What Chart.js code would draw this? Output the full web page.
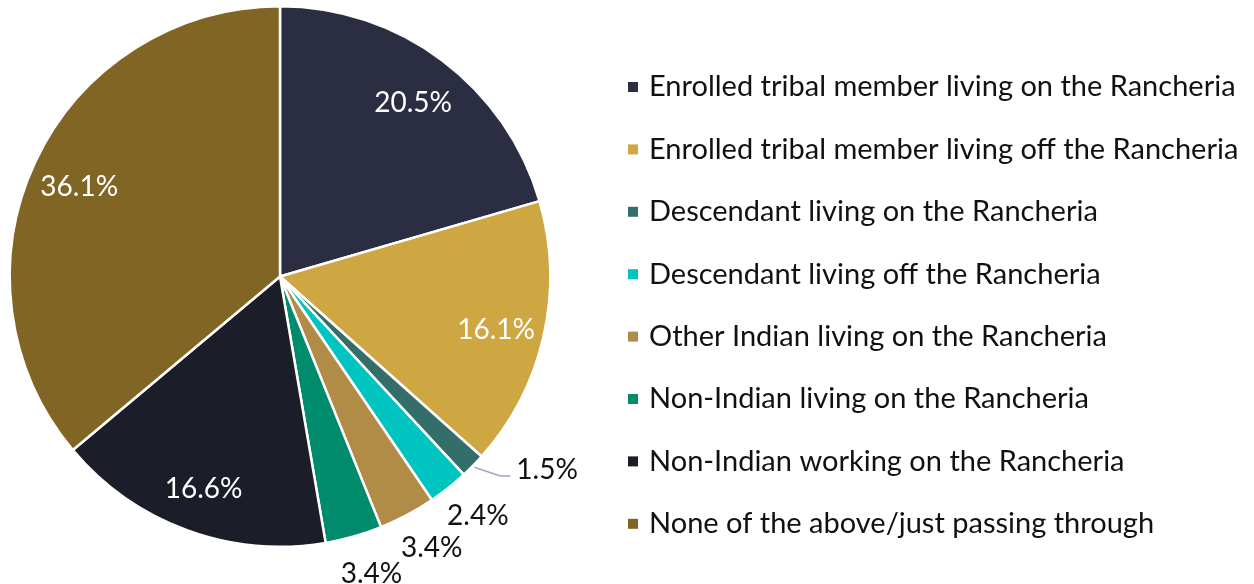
<!DOCTYPE html>
<html>
<head>
<meta charset="utf-8">
<script src="https://cdn.jsdelivr.net/npm/chart.js@4/dist/chart.umd.min.js"></script>
<style>
  html, body { margin: 0; padding: 0; background: #fff; }
  #wrap { width: 1254px; height: 584px; position: relative; }
</style>
</head>
<body>
<div id="wrap"><canvas id="pie"></canvas></div>
<script>
var categories = [
    'Enrolled tribal member living on the Rancheria',
    'Enrolled tribal member living off the Rancheria',
    'Descendant living on the Rancheria',
    'Descendant living off the Rancheria',
    'Other Indian living on the Rancheria',
    'Non-Indian living on the Rancheria',
    'Non-Indian working on the Rancheria',
    'None of the above/just passing through'
];
var shares = [20.5, 16.1, 1.5, 2.4, 3.4, 3.4, 16.6, 36.1];
var colors = ['#2b2e42', '#cea642', '#346e6b', '#00c4c0', '#b08c47', '#008c6c', '#1b1d29', '#806524'];

var FONT = '"Lato", "Open Sans", sans-serif';

// percent labels + legend, drawn after the arcs
var pieLabels = {
    id: 'pieLabels',
    afterDatasetsDraw: function (chart) {
        var ctx = chart.ctx;
        var arcs = chart.getDatasetMeta(0).data;
        ctx.save();
        ctx.font = '28px ' + FONT;
        ctx.textBaseline = 'middle';
        arcs.forEach(function (arc, i) {
            var p = arc.getProps(['x', 'y', 'startAngle', 'endAngle', 'outerRadius'], true);
            var mid = (p.startAngle + p.endAngle) / 2;
            var r = p.outerRadius;
            var txt = shares[i].toFixed(1) + '%';
            if (shares[i] >= 10) {
                ctx.fillStyle = '#ffffff';
                ctx.textAlign = 'center';
                ctx.fillText(txt, p.x + Math.cos(mid) * r * 0.82, p.y + Math.sin(mid) * r * 0.82 + 4);
            } else if (shares[i] < 2) {
                // leader line for the thinnest slice
                var a = mid - 0.04;
                var x0 = p.x + Math.cos(mid) * (r + 2), y0 = p.y + Math.sin(mid) * (r + 2);
                var x1 = p.x + Math.cos(a) * r * 1.1, y1 = p.y + Math.sin(a) * r * 1.1;
                ctx.strokeStyle = '#a3a3c2';
                ctx.lineWidth = 1.5;
                ctx.beginPath();
                ctx.moveTo(x0, y0);
                ctx.lineTo(x1, y1);
                ctx.lineTo(x1 + 10, y1);
                ctx.stroke();
                ctx.fillStyle = '#111111';
                ctx.textAlign = 'left';
                ctx.fillText(txt, x1 + 16, y1 - 6);
            } else {
                var b = mid - 0.025;
                ctx.fillStyle = '#111111';
                ctx.textAlign = 'center';
                ctx.fillText(txt, p.x + Math.cos(b) * r * 1.14, p.y + Math.sin(b) * r * 1.14 + 3);
            }
        });

        // legend
        ctx.textAlign = 'left';
        ctx.font = '29px ' + FONT;
        categories.forEach(function (name, i) {
            var y = 87 + i * 62.4;
            ctx.fillStyle = colors[i];
            ctx.fillRect(628, y - 5, 10, 10);
            ctx.fillStyle = '#111111';
            ctx.fillText(name, 649, y);
        });
        ctx.restore();
    }
};

var chart = new Chart(document.getElementById('pie'), {
    type: 'pie',
    data: {
        labels: categories,
        datasets: [{
            data: shares,
            backgroundColor: colors,
            borderColor: '#ffffff',
            borderWidth: 2.5
        }]
    },
    options: {
        responsive: true,
        maintainAspectRatio: false,
        animation: false,
        layout: { padding: { left: 8, top: 5, right: 702, bottom: 36 } },
        plugins: {
            legend: { display: false },
            tooltip: { enabled: false }
        }
    },
    plugins: [pieLabels]
});
</script>
</body>
</html>
